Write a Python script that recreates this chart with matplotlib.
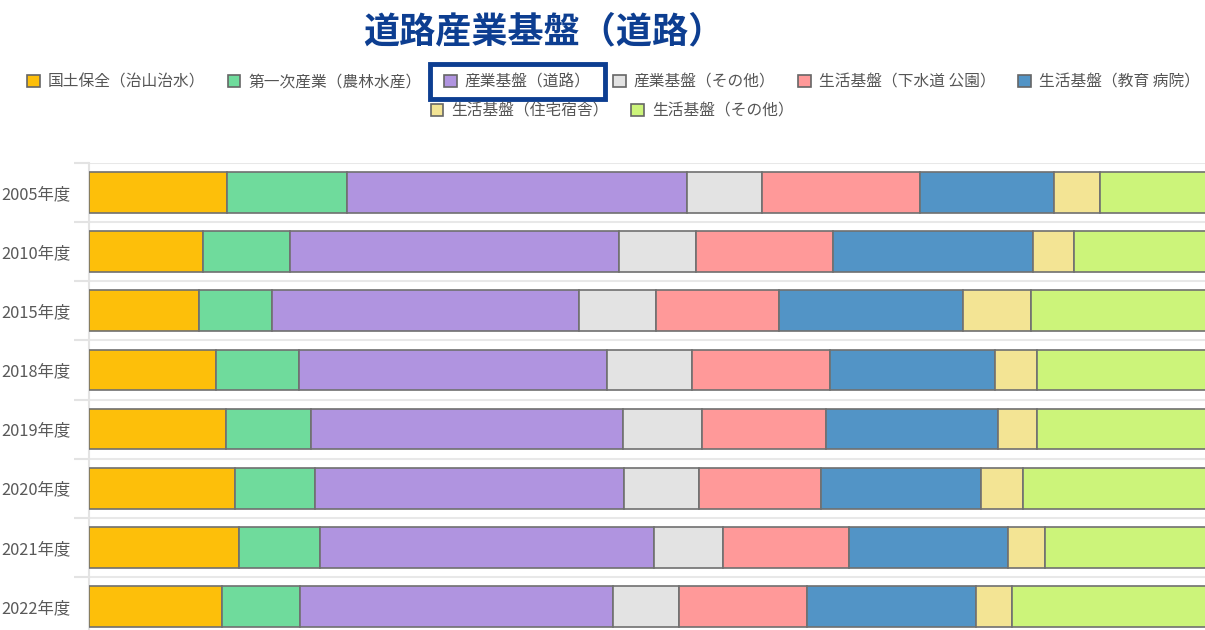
import matplotlib.pyplot as plt
from matplotlib.patches import Rectangle, Patch
import numpy as np

plt.rcParams['font.family'] = ['Noto Sans CJK JP', 'DejaVu Sans']

years = ['2005年度', '2010年度', '2015年度', '2018年度', '2019年度', '2020年度', '2021年度', '2022年度']
categories = ['国土保全（治山治水）', '第一次産業（農林水産）', '産業基盤（道路）', '産業基盤（その他）',
              '生活基盤（下水道 公園）', '生活基盤（教育 病院）', '生活基盤（住宅宿舎）', '生活基盤（その他）']

# shares in %
kokudo   = [11.6, 9.6, 9.2, 10.7, 11.5, 12.3, 12.6, 11.2]
nogyo    = [10.1, 7.3, 6.2, 6.9, 7.1, 6.7, 6.8, 6.5]
doro     = [28.5, 27.6, 25.7, 25.9, 26.2, 25.9, 28.0, 26.3]
sangyo   = [6.3, 6.5, 6.5, 7.1, 6.7, 6.3, 5.8, 5.5]
gesui    = [13.3, 11.5, 10.3, 11.6, 10.4, 10.3, 10.6, 10.8]
kyoiku   = [11.2, 16.8, 15.5, 13.9, 14.4, 13.4, 13.4, 14.2]
jutaku   = [3.9, 3.4, 5.7, 3.5, 3.3, 3.5, 3.1, 3.0]
seikatsu = [15.1, 17.3, 20.9, 20.4, 20.4, 21.6, 19.7, 22.5]

series = [kokudo, nogyo, doro, sangyo, gesui, kyoiku, jutaku, seikatsu]
colors = ['#FDBF0A', '#6FDB9C', '#B094E0', '#E3E3E3', '#FF9999', '#5294C6', '#F3E494', '#CCF47A']

fig = plt.figure(figsize=(12.05, 6.3), dpi=100)
ax = fig.add_axes([89 / 1205, -6 / 630, 1 - 89 / 1205, 473 / 630])

y = np.arange(len(years))
left = np.zeros(len(years))
for vals, c in zip(series, colors):
    ax.barh(y, vals, left=left, height=0.69, color=c, edgecolor='#707070', linewidth=1.2, zorder=3)
    left += np.array(vals)

ax.set_ylim(len(years) - 0.5, -0.5)
ax.set_xlim(0, 93.7)
ax.set_yticks(y)
ax.set_yticklabels(years, fontsize=11.8, color='#595959')
ax.tick_params(axis='y', which='major', length=0, pad=13)
ax.set_yticks(np.arange(-0.5, len(years), 1), minor=True)
ax.tick_params(axis='y', which='minor', length=11, color='#e3e3e3', width=1.5)
ax.grid(axis='y', which='minor', color='#e8e8e8', linewidth=1.5, zorder=0)
ax.set_xticks([])
for s in ['top', 'right', 'bottom']:
    ax.spines[s].set_visible(False)
ax.spines['left'].set_color('#e3e3e3')
ax.spines['left'].set_linewidth(1.5)

handles = [Patch(facecolor=c, edgecolor='#666666', linewidth=1.2) for c in colors]
kw = dict(frameon=False, fontsize=11.3, handlelength=0.8, handleheight=0.8,
          handletextpad=0.5, columnspacing=1.45, borderaxespad=0, borderpad=0)
leg1 = fig.legend(handles[:6], categories[:6], ncol=6, loc='center',
                  bbox_to_anchor=(0.509, 1 - 82 / 630), **kw)
leg2 = fig.legend(handles[6:], categories[6:], ncol=2, loc='center',
                  bbox_to_anchor=(0.508, 1 - 111 / 630), **kw)
for t in leg1.get_texts() + leg2.get_texts():
    t.set_color('#555555')

fig.text(0.451, 1 - 32 / 630, '道路産業基盤（道路）', fontsize=26, color='#0D3E91',
         fontweight='bold', ha='center', va='center')

# highlight box around the road entry
fig.canvas.draw()
r = fig.canvas.get_renderer()
tb = leg1.get_texts()[2].get_window_extent(r)
hb = leg1.legend_handles[2].get_window_extent(r)
x0, x1 = hb.x0 - 14, tb.x1 + 14
yc = (tb.y0 + tb.y1) / 2
fig.patches.append(Rectangle((x0 / 1205, (yc - 17) / 630), (x1 - x0) / 1205, 35 / 630,
                             transform=fig.transFigure, fill=False, edgecolor='#0D3E91',
                             linewidth=3.5))

fig.savefig('out.png', dpi=100)
